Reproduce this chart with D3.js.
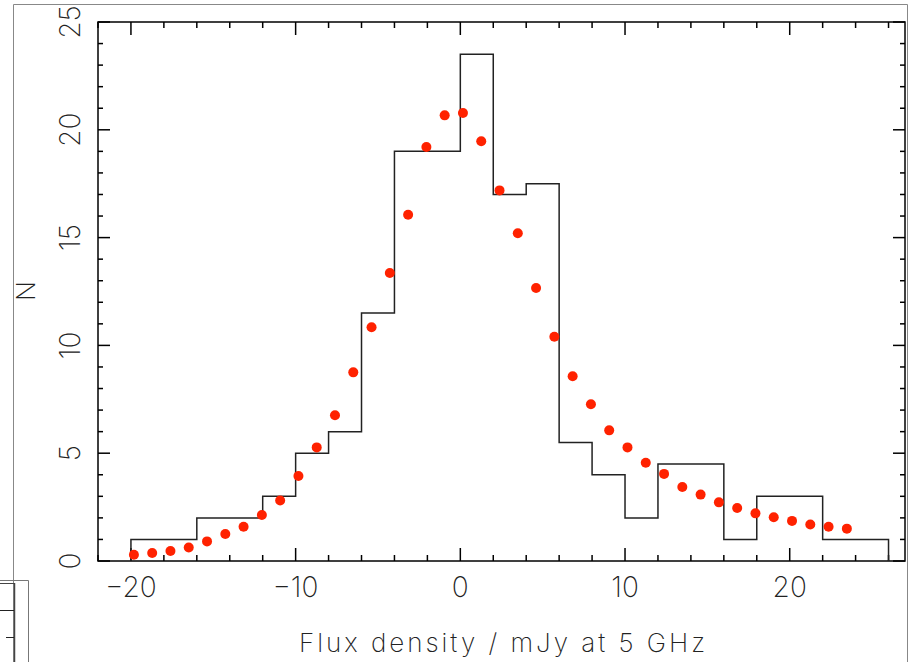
<!DOCTYPE html>
<html>
<head>
<meta charset="utf-8">
<script src="https://cdn.jsdelivr.net/npm/d3@7"></script>
<style>
  body { margin: 0; background: #fff; }
  svg text { font-family: "Inter", "DejaVu Sans", sans-serif; font-weight: 200; fill: #222; }
</style>
</head>
<body>
<div id="chart"></div>
<script>
// histogram: bin edges and counts (step line)
const binEdges = [-20, -16, -12, -10, -8, -6, -4, 0, 2, 4, 6, 8, 10, 12, 16, 18, 22, 26];
const binCounts = [1, 2, 3, 5, 6, 11.5, 19, 23.5, 17, 17.5, 5.5, 4, 2, 4.5, 1, 3, 1];

// model points (red dots)
const modelFlux = [-19.82, -18.71, -17.60, -16.49, -15.38, -14.27, -13.16, -12.05, -10.94, -9.83,
                   -8.72, -7.61, -6.50, -5.39, -4.28, -3.17, -2.06, -0.95, 0.16, 1.27,
                   2.38, 3.49, 4.60, 5.71, 6.82, 7.93, 9.04, 10.15, 11.26, 12.37,
                   13.48, 14.59, 15.70, 16.81, 17.92, 19.03, 20.14, 21.25, 22.36, 23.47];
const modelN = [0.29, 0.37, 0.46, 0.63, 0.91, 1.25, 1.59, 2.13, 2.81, 3.94,
                5.27, 6.76, 8.75, 10.84, 13.36, 16.06, 19.2, 20.67, 20.78, 19.47,
                17.19, 15.2, 12.66, 10.4, 8.57, 7.27, 6.06, 5.27, 4.56, 4.04,
                3.43, 3.08, 2.72, 2.46, 2.21, 2.03, 1.86, 1.69, 1.59, 1.50];

const xMajor = [-20, -10, 0, 10, 20];
const yMajor = [0, 5, 10, 15, 20, 25];

const W = 913, H = 662;
const margin = {top: 22, right: 8, bottom: 101, left: 98};
const width = W - margin.left - margin.right;
const height = H - margin.top - margin.bottom;

const svg = d3.select("#chart").append("svg")
    .attr("width", W)
    .attr("height", H);

// outer grey frame (page border of the original plot)
svg.append("path")
    .attr("d", "M13.5,662 V4.5 H907.5 V662")
    .attr("fill", "none")
    .attr("stroke", "#888")
    .attr("stroke-width", 1);

// fragment of a neighbouring panel, bottom-left
const frag = svg.append("g").attr("stroke", "#777").attr("fill", "none");
frag.append("path").attr("d", "M0,580.5 H28.5 V662");
frag.append("path").attr("d", "M14.5,583 V662").attr("stroke", "#444").attr("stroke-width", 1.5);
frag.append("path").attr("d", "M0,583.5 H14").attr("stroke", "#444");
frag.append("path").attr("d", "M0,610.5 H14").attr("stroke", "#222");
frag.append("path").attr("d", "M6,637.5 H14").attr("stroke", "#222");

const g = svg.append("g")
    .attr("transform", "translate(" + margin.left + "," + margin.top + ")");

const x = d3.scaleLinear().domain([-22, 27]).range([0, width]);
const y = d3.scaleLinear().domain([0, 25]).range([height, 0]);

// frame box
g.append("rect")
    .attr("width", width)
    .attr("height", height)
    .attr("fill", "none")
    .attr("stroke", "#000")
    .attr("stroke-width", 1.5);

// ticks on all four sides, pointing inward
const xMinor = d3.range(-22, 27, 2);
const yMinor = d3.range(0, 26, 1);
const ticks = g.append("g").attr("stroke", "#000").attr("stroke-width", 1.5);

xMinor.forEach(v => {
    const len = xMajor.includes(v) ? 13 : 6;
    ticks.append("line").attr("x1", x(v)).attr("x2", x(v)).attr("y1", height).attr("y2", height - len);
    ticks.append("line").attr("x1", x(v)).attr("x2", x(v)).attr("y1", 0).attr("y2", len);
});
yMinor.forEach(v => {
    const len = yMajor.includes(v) ? 12 : 5;
    ticks.append("line").attr("y1", y(v)).attr("y2", y(v)).attr("x1", 0).attr("x2", len);
    ticks.append("line").attr("y1", y(v)).attr("y2", y(v)).attr("x1", width).attr("x2", width - len);
});

// tick labels
g.selectAll(".xlab")
    .data(xMajor)
    .enter()
    .append("text")
    .attr("class", "xlab")
    .attr("x", d => x(d))
    .attr("y", height + 36)
    .attr("text-anchor", "middle")
    .attr("font-size", 28)
    .text(d => d < 0 ? "\u2212" + Math.abs(d) : d);

g.selectAll(".ylab")
    .data(yMajor)
    .enter()
    .append("text")
    .attr("class", "ylab")
    .attr("transform", d => "translate(-18," + y(d) + ") rotate(-90)")
    .attr("text-anchor", "middle")
    .attr("font-size", 28)
    .text(d => d);

// axis titles
svg.append("text")
    .attr("x", 299)
    .attr("y", 652)
    .attr("font-size", 26)
    .attr("textLength", 406)
    .attr("lengthAdjust", "spacing")
    .text("Flux density / mJy at 5 GHz");

svg.append("text")
    .attr("transform", "translate(35,291) rotate(-90)")
    .attr("text-anchor", "middle")
    .attr("font-size", 26)
    .text("N");

// histogram step line
const steps = [[binEdges[0], 0]];
binCounts.forEach((c, i) => {
    steps.push([binEdges[i], c]);
    steps.push([binEdges[i + 1], c]);
});
steps.push([binEdges[binEdges.length - 1], 0]);

const line = d3.line()
    .x(d => x(d[0]))
    .y(d => y(d[1]));

g.append("path")
    .datum(steps)
    .attr("d", line)
    .attr("fill", "none")
    .attr("stroke", "#222")
    .attr("stroke-width", 1.5);

// model dots
g.selectAll(".dot")
    .data(modelFlux.map((f, i) => ({flux: f, n: modelN[i]})))
    .enter()
    .append("circle")
    .attr("class", "dot")
    .attr("cx", d => x(d.flux))
    .attr("cy", d => y(d.n))
    .attr("r", 5)
    .attr("fill", "#ff2200");
</script>
</body>
</html>
